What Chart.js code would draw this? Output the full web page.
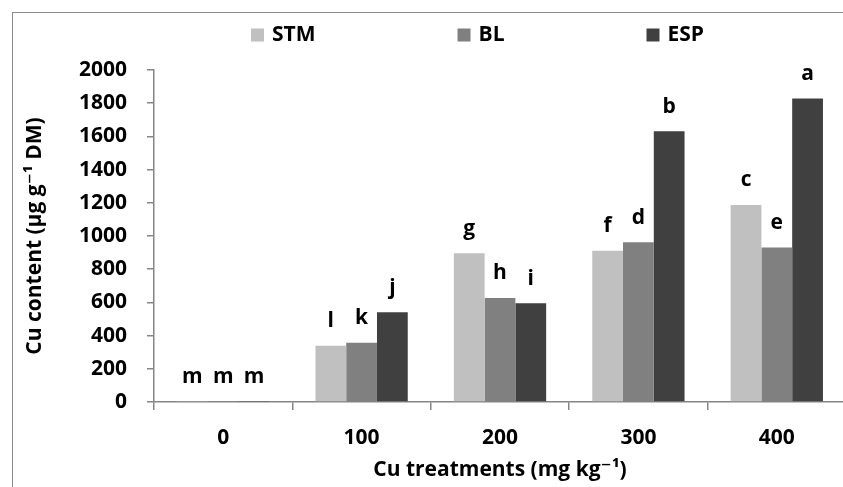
<!DOCTYPE html>
<html>
<head>
<meta charset="utf-8">
<script src="https://cdn.jsdelivr.net/npm/chart.js@4.4.1/dist/chart.umd.min.js"></script>
<style>
  html, body { margin: 0; padding: 0; background: #fff; overflow: hidden; width: 843px; height: 487px; }
  #wrap { position: relative; width: 843px; height: 487px; overflow: hidden; }
  #frame { position: absolute; left: 12px; top: 12px; width: 900px; height: 600px;
           border: 1.5px solid #8a8a8a; box-sizing: border-box; }
  canvas { position: absolute; left: 0; top: 0; }
</style>
</head>
<body>
<div id="wrap">
  <div id="frame"></div>
  <canvas id="chart" width="860" height="487"></canvas>
</div>
<script>
// Cu treatments (mg/kg) and measured Cu content per plant part
const categories = ['0', '100', '200', '300', '400'];
const seriesNames = ['STM', 'BL', 'ESP'];
const stmValues = [6, 339, 896, 911, 1187];
const blValues  = [5, 357, 627, 962, 930];
const espValues = [6, 540, 595, 1631, 1828];

// Significance letters shown above each bar
const stmLetters = ['m', 'l', 'g', 'f', 'c'];
const blLetters  = ['m', 'k', 'h', 'd', 'e'];
const espLetters = ['m', 'j', 'i', 'b', 'a'];

// Value axis range
const yMin = 0;
const yMax = 2000;
const yStep = 200;

const seriesColors = ['#c0c0c0', '#808080', '#404040'];
const FONT_FAMILY = "'Open Sans', 'DejaVu Sans', sans-serif";
const FONT_SIZE = 21;
const AXIS_COLOR = '#868686';

const boldFont = (size) => ({ family: FONT_FAMILY, size: size, weight: 'bold' });

// Letters drawn just above the top of every bar
const barLetters = {
  id: 'barLetters',
  afterDatasetsDraw(chart) {
    const ctx = chart.ctx;
    ctx.save();
    ctx.font = 'bold ' + FONT_SIZE + 'px ' + FONT_FAMILY;
    ctx.fillStyle = '#000';
    ctx.textAlign = 'center';
    ctx.textBaseline = 'alphabetic';
    chart.data.datasets.forEach((ds, i) => {
      const meta = chart.getDatasetMeta(i);
      meta.data.forEach((bar, j) => {
        ctx.fillText(ds.letters[j], bar.x, bar.y - 18.5);
      });
    });
    ctx.restore();
  }
};

// Single-row legend across the top of the frame
const topLegend = {
  id: 'topLegend',
  afterDraw(chart) {
    const ctx = chart.ctx;
    ctx.save();
    ctx.font = 'bold ' + FONT_SIZE + 'px ' + FONT_FAMILY;
    ctx.textBaseline = 'middle';
    ctx.textAlign = 'left';
    let x = 251;
    const cy = 35;
    const box = 13;
    chart.data.datasets.forEach((ds) => {
      ctx.fillStyle = ds.backgroundColor;
      ctx.fillRect(x, cy - box / 2, box, box);
      ctx.fillStyle = '#000';
      const tx = x + box + 8;
      ctx.fillText(ds.label, tx, cy);
      x = tx + ctx.measureText(ds.label).width + 142;
    });
    ctx.restore();
  }
};

const datasets = [stmValues, blValues, espValues].map((vals, i) => ({
  label: seriesNames[i],
  data: vals,
  letters: [stmLetters, blLetters, espLetters][i],
  backgroundColor: seriesColors[i],
  borderWidth: 0,
  barPercentage: 1.0,
  categoryPercentage: 0.667
}));

new Chart(document.getElementById('chart'), {
  type: 'bar',
  data: { labels: categories, datasets: datasets },
  options: {
    responsive: false,
    animation: false,
    layout: { padding: { top: 70, left: 0, right: 14, bottom: 0 } },
    plugins: {
      legend: { display: false },
      tooltip: { enabled: false }
    },
    scales: {
      x: {
        offset: true,
        grid: {
          display: true, drawOnChartArea: false, drawTicks: true,
          tickLength: 8, color: AXIS_COLOR, lineWidth: 1.5, offset: true
        },
        border: { color: AXIS_COLOR, width: 1.5 },
        ticks: { font: boldFont(FONT_SIZE), color: '#000', padding: 15 },
        title: {
          display: true,
          text: 'Cu treatments (mg kg⁻¹)',
          font: boldFont(FONT_SIZE), color: '#000',
          padding: { top: 0, bottom: 4 }
        },
        afterFit(scale) { scale.height = 85; }
      },
      y: {
        min: yMin, max: yMax,
        grid: {
          display: true, drawOnChartArea: false, drawTicks: true,
          tickLength: 7, color: AXIS_COLOR, lineWidth: 1.5
        },
        border: { color: AXIS_COLOR, width: 1.5 },
        ticks: {
          stepSize: yStep, font: boldFont(FONT_SIZE), color: '#000', padding: 20,
          callback: (value) => String(value)
        },
        title: {
          display: true,
          text: 'Cu content (µg g⁻¹ DM)',
          font: boldFont(FONT_SIZE), color: '#000',
          padding: { top: 22, bottom: 0 }
        },
        afterFit(scale) { scale.width = 154; }
      }
    }
  },
  plugins: [barLetters, topLegend]
});
</script>
</body>
</html>
